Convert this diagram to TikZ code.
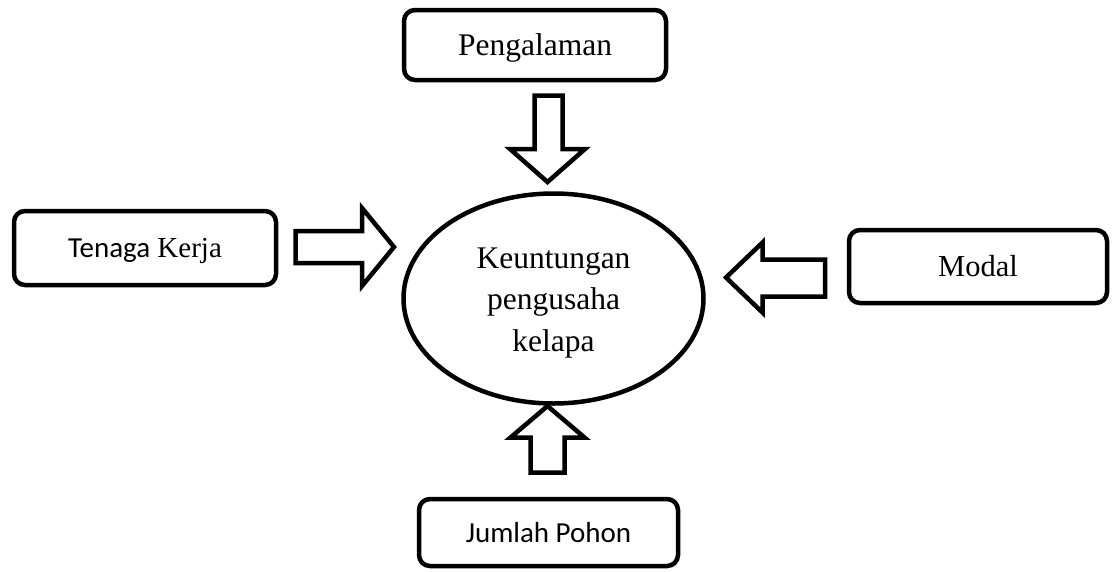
\documentclass[tikz,border=0pt]{standalone}
\usepackage{fontspec}
\setmainfont{Liberation Serif}
\newfontfamily\calfont{Carlito}
\usetikzlibrary{shapes.geometric}
\begin{document}
\begin{tikzpicture}[x=1pt,y=-1pt,
  box/.style={draw,line width=4.5pt,rounded corners=11pt,inner sep=0pt},
  blk/.style={draw,line width=4.5pt,line join=miter,miter limit=10},
  big/.style={font=\fontsize{31.5}{41.5}\selectfont},
  mid/.style={font=\fontsize{30.5}{40}\selectfont},
  sml/.style={font=\fontsize{29}{36}\selectfont}]
\useasboundingbox (0,0) rectangle (1112,571);
% boxes
\node[box,big,minimum width=262pt,minimum height=70pt] (peng) at (535,45) {};
\node[big,inner sep=0pt] (pengt) at (535,47.5) {Pengalaman};
\node[box,sml,minimum width=262pt,minimum height=74pt] (tk) at (145,248) {};
\node[sml,inner sep=0pt] (tkt) at (145,251) {{\calfont Tenaga} Kerja};
\node[box,mid,minimum width=258pt,minimum height=73pt] (modal) at (978,266.5) {Modal};
\node[box,sml,minimum width=259pt,minimum height=67pt] (jp) at (548.5,532.5) {\calfont Jumlah Pohon};
% ellipse
\node[draw,ellipse,line width=4.5pt,inner sep=0pt,minimum width=300pt,minimum height=210pt] (k) at (553.5,298.5) {};
\node[big,align=center,inner sep=0pt] (kt) at (553.5,303) {Keuntungan\\pengusaha\\kelapa};
% block arrows
\draw[blk] (534.5,95.5) -- (562.5,95.5) -- (562.5,149) -- (585,149) -- (547.5,182) -- (510,149) -- (534.5,149) -- cycle;
\draw[blk] (295.5,231) -- (362,231) -- (362,208) -- (394,247) -- (362,286) -- (362,263) -- (295.5,263) -- cycle;
\draw[blk] (825,259.5) -- (762.5,259.5) -- (762.5,242.5) -- (726,277.5) -- (762.5,312.5) -- (762.5,296.5) -- (825,296.5) -- cycle;
\draw[blk] (530.5,472.5) -- (564.5,472.5) -- (564.5,437.5) -- (584.5,437.5) -- (547.5,406) -- (510.5,437.5) -- (530.5,437.5) -- cycle;
\end{tikzpicture}
\end{document}
